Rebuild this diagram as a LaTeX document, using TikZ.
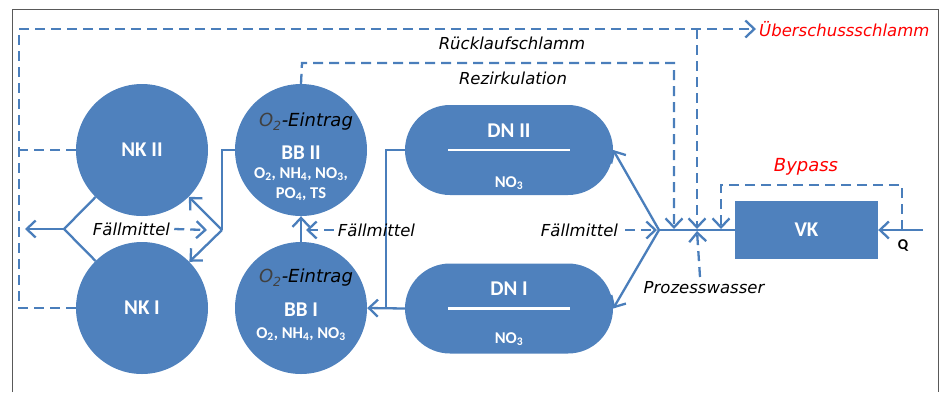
\documentclass[tikz,border=0pt]{standalone}
\usepackage{fontspec}
\setmainfont{Carlito}
\newfontfamily\djv{DejaVu Sans}
\usetikzlibrary{arrows.meta,calc}
\definecolor{obl}{HTML}{4F81BD}
\definecolor{oln}{HTML}{4A7EBB}
\begin{document}
\begin{tikzpicture}[x=1pt,y=-1pt,
  tank/.style={circle,fill=obl,minimum size=132pt,inner sep=0pt},
  basin/.style={rectangle,rounded corners=45pt,fill=obl,minimum width=208pt,minimum height=90pt,inner sep=0pt},
  flow/.style={draw=oln,line width=2.3pt},
  dflow/.style={flow,dash pattern=on 10pt off 6pt},
  arr/.style={-{Straight Barb[length=9pt,width=17pt]}},
  wlab/.style={text=white,font=\bfseries\fontsize{21}{21}\selectfont,inner sep=0pt},
  wsub/.style={text=white,font=\bfseries\fontsize{16.5}{16.5}\selectfont,inner sep=0pt},
  ilab/.style={font=\djv\itshape\fontsize{16.5}{16.5}\selectfont,inner sep=0pt},
  olab/.style={font=\djv\itshape\fontsize{18}{18}\selectfont,inner sep=0pt},
  rlab/.style={ilab,text=red},
]
\useasboundingbox (0,0) rectangle (945,392);
% frame
\draw[gray!70!black,line width=1pt] (12,392) -- (12,9) -- (938,9) -- (938,392);

% tanks
\node[tank,wlab,minimum size=132pt] (NK2) at (142,150) {NK II};
\node[tank,wlab,minimum size=132pt] (NK1) at (142,308) {NK I};
\node[tank] (BB2) at (301,150) {};
\node[tank] (BB1) at (301,308) {};
\node[basin] (DN2) at (509,150) {};
\node[basin] (DN1) at (509,308.5) {};
\node[rectangle,fill=obl,minimum width=143pt,minimum height=58pt,wlab,inner sep=0pt] (VK) at (806.5,230) {VK};

% tank texts
\node[olab] (BB2o) at (306,122) {\textcolor{black!75}{O\textsubscript{2}}-Eintrag};
\node[wlab] (BB2t) at (301,153) {BB II};
\node[wsub] (BB2c) at (301,174) {O\textsubscript{2}, NH\textsubscript{4}, NO\textsubscript{3},};
\node[wsub] (BB2d) at (301,194) {PO\textsubscript{4}, TS};
\node[olab] (BB1o) at (306,278) {\textcolor{black!75}{O\textsubscript{2}}-Eintrag};
\node[wlab] (BB1t) at (301,310) {BB I};
\node[wsub] (BB1c) at (301,334) {O\textsubscript{2}, NH\textsubscript{4}, NO\textsubscript{3}};
\node[wlab] (DN2t) at (509,131) {DN II};
\node[wsub] (DN2n) at (509,183) {NO\textsubscript{3}};
\node[wlab] (DN1t) at (509,289) {DN I};
\node[wsub] (DN1n) at (509,339) {NO\textsubscript{3}};
\draw[white,line width=2.8pt] ($(DN2)+(-61,0)$) -- ($(DN2)+(61,0)$);
\draw[white,line width=2.8pt] ($(DN1)+(-61,0)$) -- ($(DN1)+(61,0)$);

% coordinates
\coordinate (J1) at (64,229);
\coordinate (Lout) at (25,229);
\coordinate (J2) at (222,230);
\coordinate (K3) at (222,150);
\coordinate (K1) at (386,150);
\coordinate (K2) at (386,308.5);
\coordinate (J3) at (659,230);
\coordinate (Qin) at (923,230);
\coordinate (R1) at (302,63);
\coordinate (R2) at (674,63);
\coordinate (R3) at (674,229);
\coordinate (T1) at (19,308);
\coordinate (T2) at (19,29);
\coordinate (T3) at (756,29);
\coordinate (T4) at (19,150);
\coordinate (U1) at (697,29);
\coordinate (U2) at (697,229);
\coordinate (P1) at (700,277);
\coordinate (P2) at (697,231);
\coordinate (B1) at (902,230);
\coordinate (B2) at (902,185);
\coordinate (B3) at (721,185);
\coordinate (B4) at (721,229);
\coordinate (F2tip) at (306,230);

% solid flows
\draw[flow,arr] (Qin) -- (VK.east);
\draw[flow] (VK.west) -- (J3);
\draw[flow,arr] (J3) -- (DN2.east);
\draw[flow,arr] (J3) -- (DN1.east);
\draw[flow] (DN2.west) -- (K1) -- (K2);
\draw[flow,arr] (DN1.west) -- (BB1.east);
\draw[flow,arr] (BB1.north) -- (BB2.south);
\draw[flow] (BB2.west) -- (K3) -- (J2);
\draw[flow,arr] (J2) -- (NK2);
\draw[flow,arr] (J2) -- (NK1);
\draw[flow] (NK2) -- (J1) -- (NK1);
\draw[flow,arr] (J1) -- (Lout);

% labels
\node[ilab] (F1) at (131.5,229) {Fällmittel};
\node[ilab] (F2) at (376.5,230) {Fällmittel};
\node[ilab] (F3) at (579.5,230) {Fällmittel};
\node[ilab] (RL) at (512,43) {Rücklaufschlamm};
\node[ilab] (RZ) at (513,78) {Rezirkulation};
\node[rlab,anchor=west] (US) at (759,29) {Überschussschlamm};
\node[rlab,font=\djv\itshape\fontsize{18}{18}\selectfont] (BP) at (806,167) {Bypass};
\node[ilab] (PW) at (704,288) {Prozesswasser};
\node[font=\bfseries\fontsize{15}{15}\selectfont,inner sep=0pt] (Q) at (903,246) {Q};

% dashed flows
\draw[dflow,arr] ($(F1.east)+(4,0)$) -- ($(J2)+(-15,0)$);
\draw[dflow,arr] ($(F2.west)+(-4,0)$) -- (F2tip);
\draw[dflow,arr] ($(F3.east)+(7,0)$) -- ($(J3)+(-2,0)$);
\draw[dflow,arr] (BB2.north) -- (R1) -- (R2) -- (R3);
\draw[dflow,arr] (NK1.west) -- (T1) -- (T2) -- (T3);
\draw[dflow] (NK2.west) -- (T4);
\draw[dflow,arr] (U1) -- (U2);
\draw[dflow,arr] (P1) -- (P2);
\draw[dflow,arr] (B1) -- (B2) -- (B3) -- (B4);
\end{tikzpicture}
\end{document}
